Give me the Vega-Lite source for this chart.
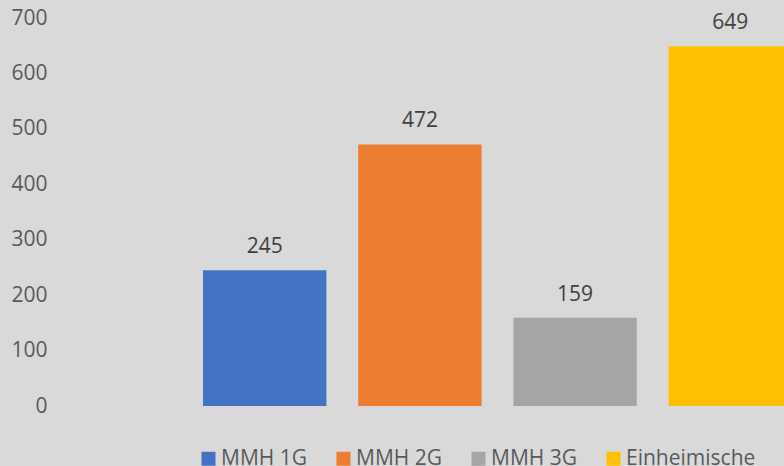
{
  "$schema": "https://vega.github.io/schema/vega-lite/v6.json",
  "width": 724,
  "height": 388,
  "autosize": {"type": "none"},
  "padding": {"left": 60, "top": 18, "right": 0, "bottom": 60},
  "background": "#d9d9d9",
  "config": {"view": {"stroke": null}, "font": "Open Sans"},
  "data": {
    "values": [
      {"group": "MMH 1G", "value": 245},
      {"group": "MMH 2G", "value": 472},
      {"group": "MMH 3G", "value": 159},
      {"group": "Einheimische", "value": 649}
    ]
  },
  "encoding": {
    "x": {
      "field": "group",
      "type": "nominal",
      "sort": null,
      "axis": null,
      "scale": {"range": [143, 732], "paddingInner": 0.205, "paddingOuter": 0}
    },
    "y": {
      "field": "value",
      "type": "quantitative",
      "scale": {"domain": [0, 700], "nice": false},
      "axis": {
        "title": null,
        "values": [0, 100, 200, 300, 400, 500, 600, 700],
        "grid": false,
        "domain": false,
        "ticks": false,
        "labelFlush": false,
        "labelPadding": 13,
        "labelFont": "Open Sans",
        "labelFontSize": 21,
        "labelColor": "#595959"
      }
    }
  },
  "layer": [
    {
      "mark": {"type": "bar"},
      "encoding": {
        "color": {
          "field": "group",
          "type": "nominal",
          "sort": null,
          "scale": {
            "domain": ["MMH 1G", "MMH 2G", "MMH 3G", "Einheimische"],
            "range": ["#4472c4", "#ed7d31", "#a5a5a5", "#ffc000"]
          },
          "legend": {
            "orient": "none",
            "legendX": 138,
            "legendY": 430,
            "direction": "horizontal",
            "title": null,
            "symbolType": "square",
            "symbolSize": 196,
            "symbolStrokeWidth": 0,
            "labelFont": "Open Sans",
            "labelFontSize": 21,
            "labelColor": "#595959",
            "labelOffset": 2,
            "columnPadding": 26,
            "padding": 0
          }
        }
      }
    },
    {
      "mark": {"type": "text", "dy": -17, "baseline": "alphabetic", "fontSize": 21, "font": "Open Sans", "color": "#404040"},
      "encoding": {"text": {"field": "value", "type": "quantitative"}}
    }
  ]
}
